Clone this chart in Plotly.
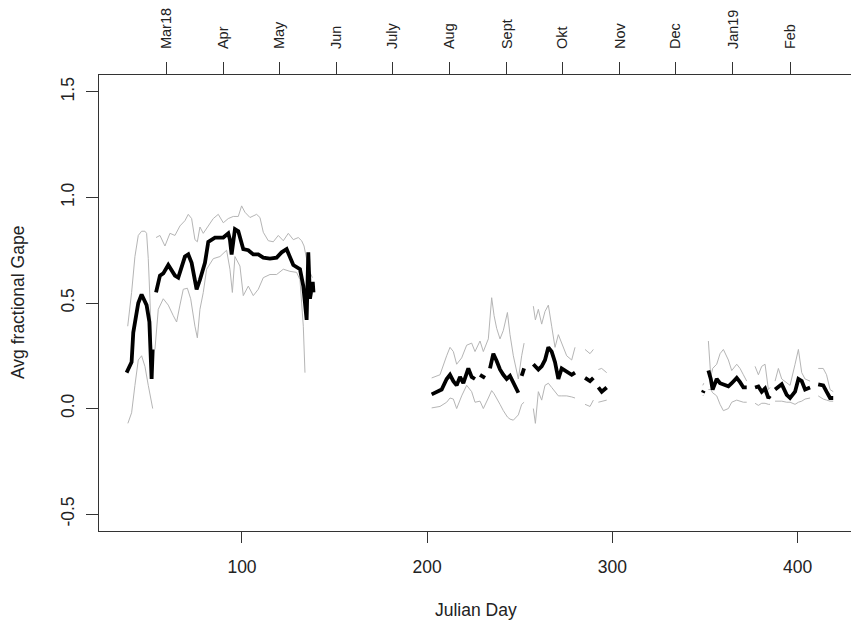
import plotly.graph_objects as go

N = None

black_day = [37.7, 40.4, 41.3, 44.0, 45.8, 48.5, 50.0, 50.9, 51.2, 51.8, N,
             53.6, 55.7, 57.5, 60.2, 63.8, 65.6, 69.2, 71.0, 72.8, 75.5, 77.3, 80.0, 81.8, 85.4, 89.9,
             92.6, 93.5, 94.4, 96.2, 98.0, 100.7, 103.4, 106.1, 108.8, 111.5, 115.1, 118.7, 121.4,
             124.1, 125.9, 127.7, 131.3, 133.1, 134.0, 134.9, 135.8, 136.7, 138.2, 138.6, N,
             202.4, 205.1, 207.8, 210.5, 212.3, 214.1, 215.9, 217.7, 219.5, 222.2, 224.0, 225.8, N,
             228.5, 231.2, N,
             233.9, 235.7, 237.5, 239.3, 241.1, 242.9, 244.7, 246.5, 249.2, N,
             251.0, 252.3, N,
             257.3, 258.4, 260.0, 261.8, 263.6, 265.4, 267.2, 269.0, 270.8, 272.6, 275.3, 278.0, 279.8, N,
             285.2, 287.9, 289.7, N,
             292.4, 294.2, 296.9, N,
             348.8, 349.3, N,
             351.8, 353.1, 354.1, 356.3, 358.1, 359.9, 362.6, 364.4, 367.1, 368.9, 370.7, 372.5, N,
             377.0, 378.8, 380.6, 382.4, 384.2, 385.1, N,
             387.8, 389.6, 391.4, 394.1, 395.9, 398.6, 400.4, 402.2, 404.0, 406.7, N,
             411.1, 413.8, 415.6, 417.5, 419.2]
black_val = [0.17, 0.22, 0.36, 0.50, 0.54, 0.49, 0.41, 0.23, 0.14, 0.28, N,
             0.55, 0.63, 0.64, 0.68, 0.63, 0.62, 0.72, 0.73, 0.69, 0.565, 0.61, 0.69, 0.79, 0.81, 0.81,
             0.83, 0.80, 0.73, 0.85, 0.84, 0.755, 0.75, 0.73, 0.73, 0.715, 0.71, 0.715, 0.74,
             0.755, 0.72, 0.68, 0.66, 0.58, 0.50, 0.42, 0.74, 0.52, 0.60, 0.55, N,
             0.067, 0.08, 0.09, 0.14, 0.16, 0.13, 0.11, 0.15, 0.12, 0.19, 0.15, 0.14, N,
             0.16, 0.145, N,
             0.19, 0.26, 0.225, 0.185, 0.16, 0.14, 0.155, 0.12, 0.075, N,
             0.155, 0.19, N,
             0.21, 0.20, 0.185, 0.20, 0.23, 0.29, 0.27, 0.22, 0.14, 0.19, 0.175, 0.16, 0.17, N,
             0.145, 0.13, 0.145, N,
             0.10, 0.08, 0.10, N,
             0.075, 0.085, N,
             0.18, 0.14, 0.09, 0.14, 0.12, 0.115, 0.105, 0.12, 0.145, 0.125, 0.10, 0.10, N,
             0.10, 0.105, 0.08, 0.095, 0.05, 0.06, N,
             0.09, 0.10, 0.115, 0.065, 0.05, 0.08, 0.14, 0.13, 0.09, 0.10, N,
             0.115, 0.11, 0.08, 0.05, 0.05]

upper_day = [38.3, 40.4, 42.2, 44.0, 45.8, 47.6, 48.5, 49.4, 50.3, 51.2, 51.8, N,
             53.6, 55.7, 58.4, 61.1, 63.8, 66.5, 69.2, 71.0, 72.8, 74.6, 75.9, 77.3, 79.1, 81.8, 84.5,
             87.2, 89.9, 92.6, 95.3, 98.0, 99.8, 101.6, 104.3, 107.9, 109.7, 111.5, 114.2, 116.9,
             119.6, 122.3, 125.0, 127.7, 130.4, 132.2, 133.5, 136.0, 138.0, N,
             202.4, 206.9, 210.5, 212.3, 214.1, 215.9, 218.6, 221.3, 224.0, 225.8, 228.5, 230.3, 233.0,
             234.8, 236.1, 237.5, 239.3, 241.1, 243.3, 244.7, 246.5, 249.2, 251.0, 252.3, N,
             257.3, 258.4, 260.0, 261.8, 263.6, 265.4, 267.2, 269.0, 270.8, 272.6, 275.3, 278.0, 279.8, N,
             285.2, 287.9, 289.7, N,
             292.4, 294.2, 296.9, N,
             348.8, 349.3, N,
             351.8, 353.1, 354.1, 356.3, 358.1, 359.9, 362.6, 364.4, 367.1, 368.9, 370.7, 372.5, N,
             377.0, 378.8, 380.6, 382.4, 384.2, 385.1, N,
             387.8, 389.6, 391.4, 394.1, 395.9, 398.6, 400.4, 402.2, 404.0, 406.7, N,
             411.1, 413.8, 415.6, 417.5, 419.2]
upper_val = [0.39, 0.55, 0.72, 0.82, 0.84, 0.84, 0.83, 0.71, 0.52, 0.30, 0.14, N,
             0.81, 0.82, 0.77, 0.83, 0.82, 0.865, 0.89, 0.92, 0.90, 0.80, 0.79, 0.86, 0.83, 0.865, 0.90,
             0.92, 0.88, 0.90, 0.91, 0.91, 0.96, 0.93, 0.905, 0.92, 0.905, 0.835, 0.795, 0.79,
             0.82, 0.795, 0.83, 0.80, 0.81, 0.795, 0.77, 0.66, 0.62, N,
             0.145, 0.16, 0.25, 0.29, 0.27, 0.21, 0.24, 0.30, 0.31, 0.27, 0.32, 0.27, 0.33,
             0.525, 0.44, 0.38, 0.33, 0.37, 0.455, 0.35, 0.25, 0.14, 0.25, 0.31, N,
             0.485, 0.42, 0.47, 0.40, 0.46, 0.49, 0.39, 0.29, 0.35, 0.31, 0.25, 0.23, 0.29, N,
             0.28, 0.26, 0.28, N,
             0.185, 0.19, 0.17, N,
             0.11, 0.12, N,
             0.32, 0.15, 0.19, 0.21, 0.26, 0.28, 0.23, 0.18, 0.21, 0.19, 0.16, 0.13, N,
             0.20, 0.16, 0.20, 0.21, 0.09, 0.10, N,
             0.13, 0.19, 0.14, 0.12, 0.11, 0.21, 0.28, 0.17, 0.14, 0.13, N,
             0.19, 0.19, 0.16, 0.09, 0.08]

lower_day = [38.4, 40.4, 42.2, 44.0, 45.8, 47.6, 49.4, 51.8, N,
             53.0, 54.8, 57.5, 60.2, 62.9, 64.7, 66.5, 68.3, 70.5, 72.3, 74.6, 75.9, 77.3, 79.1, 80.9,
             84.5, 88.1, 91.7, 93.5, 94.8, 96.2, 98.9, 100.7, 103.4, 106.1, 108.8, 111.5, 115.1,
             118.7, 122.3, 125.9, 129.5, 131.3, 133.1, 134.0, N,
             202.4, 206.9, 210.5, 212.3, 214.1, 215.9, 218.6, 221.3, 224.0, 225.8, 228.5, 230.3, 233.0,
             234.8, 236.1, 237.5, 239.3, 241.1, 243.3, 244.7, 246.5, 249.2, 251.0, 252.3, N,
             257.3, 258.4, 260.0, 261.8, 263.6, 265.4, 267.2, 269.0, 270.8, 272.6, 275.3, 278.0, 279.8, N,
             285.2, 287.9, 289.7, N,
             292.4, 294.2, 296.9, N,
             348.8, 349.3, N,
             351.8, 353.1, 354.1, 356.3, 358.1, 359.9, 362.6, 364.4, 367.1, 368.9, 370.7, 372.5, N,
             377.0, 378.8, 380.6, 382.4, 384.2, 385.1, N,
             387.8, 389.6, 391.4, 394.1, 395.9, 398.6, 400.4, 402.2, 404.0, 406.7, N,
             411.1, 413.8, 415.6, 417.5, 419.2]
lower_val = [-0.07, -0.02, 0.11, 0.23, 0.25, 0.20, 0.11, 0.0, N,
             0.28, 0.47, 0.52, 0.49, 0.44, 0.41, 0.49, 0.565, 0.57, 0.52, 0.39, 0.335, 0.47, 0.55, 0.66,
             0.71, 0.72, 0.75, 0.66, 0.55, 0.72, 0.675, 0.535, 0.58, 0.535, 0.565, 0.62, 0.635,
             0.635, 0.66, 0.65, 0.645, 0.61, 0.39, 0.17, N,
             0.003, 0.01, 0.03, 0.05, 0.045, 0.0, 0.06, 0.11, 0.08, 0.03, 0.035, 0.0, 0.05,
             0.085, 0.07, 0.05, 0.02, -0.01, -0.04, -0.05, -0.055, -0.03, 0.02, 0.03, N,
             0.0, -0.07, 0.08, 0.04, 0.11, 0.12, 0.10, 0.08, 0.06, 0.06, 0.06, 0.055, 0.05, N,
             0.02, 0.01, 0.04, N,
             0.03, 0.035, 0.04, N,
             0.06, 0.065, N,
             0.09, 0.09, 0.075, 0.06, 0.02, -0.01, 0.0, 0.03, 0.04, 0.035, 0.03, 0.03, N,
             0.025, 0.015, 0.025, 0.025, 0.02, 0.02, N,
             0.035, 0.035, 0.035, 0.03, 0.03, 0.02, 0.03, 0.035, 0.045, 0.05, N,
             0.06, 0.045, 0.04, 0.035, 0.035]

x_ticks = [100, 200, 300, 400]
y_ticks = [-0.5, 0.0, 0.5, 1.0, 1.5]
y_ticktext = ["-0.5", "0.0", "0.5", "1.0", "1.5"]
month_days = [59, 90, 120, 151, 181, 212, 243, 273, 304, 334, 365, 396]
month_labels = ["Mar18", "Apr", "May", "Jun", "July", "Aug", "Sept", "Okt", "Nov", "Dec", "Jan19", "Feb"]

X_RANGE = [22.8, 428.8]
Y_RANGE = [-0.58, 1.58]
FONT = "Liberation Sans, Arial, sans-serif"
AX = "#333333"

fig = go.Figure()
fig.add_trace(go.Scatter(x=upper_day, y=upper_val, mode="lines",
                         line=dict(color="#b5b5b5", width=1), hoverinfo="skip"))
fig.add_trace(go.Scatter(x=lower_day, y=lower_val, mode="lines",
                         line=dict(color="#b5b5b5", width=1), hoverinfo="skip"))
fig.add_trace(go.Scatter(x=black_day, y=black_val, mode="lines",
                         line=dict(color="black", width=3.8)))
# invisible trace to activate the top axis
fig.add_trace(go.Scatter(x=[month_days[0]], y=[0], xaxis="x2", mode="markers",
                         marker=dict(opacity=0), hoverinfo="skip"))

fig.update_layout(
    width=851, height=625,
    margin=dict(l=99, r=0, t=75, b=94),
    paper_bgcolor="white", plot_bgcolor="white",
    showlegend=False,
    font=dict(family=FONT, color="#222222", size=17),
    xaxis=dict(range=X_RANGE, tickvals=x_ticks, ticktext=[str(v) for v in x_ticks],
               showgrid=False, zeroline=False, showline=True, linecolor=AX, linewidth=1,
               ticks="outside", ticklen=11, tickcolor=AX, ticklabelstandoff=9,
               tickfont=dict(size=17.5, family=FONT)),
    xaxis2=dict(range=X_RANGE, overlaying="x", side="top", tickvals=month_days, ticktext=month_labels,
                tickangle=-90, showgrid=False, zeroline=False, showline=True, linecolor=AX, linewidth=1,
                ticks="outside", ticklen=12, tickcolor=AX, ticklabelstandoff=10,
                tickfont=dict(size=14.5, family=FONT)),
    yaxis=dict(range=Y_RANGE, tickvals=y_ticks, ticktext=y_ticktext, tickangle=-90,
               showgrid=False, zeroline=False, showline=True, linecolor=AX, linewidth=1,
               ticks="outside", ticklen=12, tickcolor=AX, ticklabelstandoff=5,
               tickfont=dict(size=17.5, family=FONT)),
    annotations=[
        dict(text="Julian Day", xref="paper", yref="paper", x=(476 - 99) / 752, y=(531 - 610) / 456,
             showarrow=False, font=dict(size=17.5, family=FONT), xanchor="center", yanchor="middle"),
        dict(text="Avg fractional Gape", xref="paper", yref="paper", x=(18 - 99) / 752, y=(531 - 303) / 456,
             showarrow=False, textangle=-90, font=dict(size=17.5, family=FONT), xanchor="center", yanchor="middle"),
    ],
)

fig.write_html("out.html")
